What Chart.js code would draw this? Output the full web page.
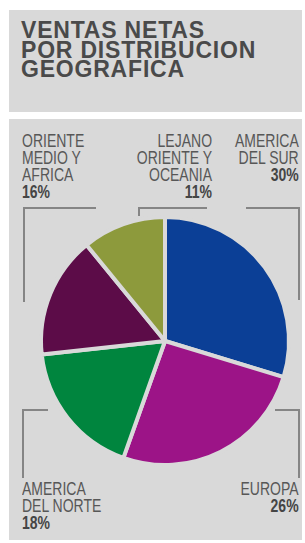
<!DOCTYPE html>
<html>
<head>
<meta charset="utf-8">
<script src="https://cdn.jsdelivr.net/npm/chart.js@4/dist/chart.umd.min.js"></script>
<style>
    html, body { margin: 0; padding: 0; background: #fff; }
    body { width: 305px; height: 543px; position: relative; overflow: hidden; font-family: "Liberation Sans", Arial, sans-serif; }
    .box { position: absolute; left: 9px; width: 293px; background: #d9d9d9; }
    #title-box { top: 10px; height: 102px; }
    #panel { top: 119px; height: 421px; }
    #title { position: absolute; left: 21px; top: 21px; font-size: 23px; font-weight: bold; line-height: 19.5px; letter-spacing: 0.8px; color: #4a4a4a; margin: 0; }
    #pie-wrap { position: absolute; left: 35px; top: 211px; width: 260px; height: 260px; }
    .label { position: absolute; font-family: "Liberation Sans", Arial, sans-serif; font-size: 17.5px; line-height: 17px; color: #575757; white-space: pre; transform: scaleX(0.8); }
    .label.l { transform-origin: left top; }
    .label.r { transform-origin: right top; }
    .label b { color: #454545; }
    .bracket { position: absolute; border: 0 solid #858585; box-sizing: border-box; }
</style>
</head>
<body>
<div class="box" id="title-box"></div>
<div class="box" id="panel"></div>
<h1 id="title">VENTAS NETAS<br>POR DISTRIBUCION<br>GEOGRAFICA</h1>
<div id="pie-wrap"><canvas id="pie" width="260" height="260"></canvas></div>
<div id="labels"></div>
<script>
(function () {
    'use strict';

    // Chart data, clockwise from 12 o'clock
    const regions = ['AMERICA\nDEL SUR', 'EUROPA', 'AMERICA\nDEL NORTE', 'ORIENTE\nMEDIO Y\nAFRICA', 'LEJANO\nORIENTE Y\nOCEANIA'];
    const shares = [30, 26, 18, 16, 11];
    const sliceColors = ['#0b3f96', '#9c1487', '#00853e', '#5c0c48', '#8d9a3c'];

    // Label placement (same order as regions)
    const labelLayout = [
        { right: 6, top: 133, align: 'right' },
        { right: 6, top: 481, align: 'right' },
        { left: 22, top: 481, align: 'left' },
        { left: 22, top: 133, align: 'left' },
        { right: 93, top: 133, align: 'right' }
    ];

    // Leader brackets: [left, top, width, height, side]
    const brackets = [
        [23, 207, 73, 95, 'left'],
        [138, 207, 69, 9, 'left'],
        [246, 207, 54, 93, 'right'],
        [22, 409, 26, 69, 'left'],
        [275, 409, 25, 69, 'right']
    ];

    function buildLabels() {
        const container = document.getElementById('labels');
        container.innerHTML = regions.map((name, i) => {
            const pos = labelLayout[i];
            const side = pos.left !== undefined ? `left:${pos.left}px;` : `right:${pos.right}px;`;
            const cls = pos.align === 'left' ? 'l' : 'r';
            return `<div class="label ${cls}" style="${side}top:${pos.top}px;text-align:${pos.align}">${name}\n<b>${shares[i]}%</b></div>`;
        }).join('');

        brackets.forEach(b => {
            const div = document.createElement('div');
            div.className = 'bracket';
            div.style.left = b[0] + 'px';
            div.style.top = b[1] + 'px';
            div.style.width = b[2] + 'px';
            div.style.height = b[3] + 'px';
            div.style.borderTopWidth = '2px';
            if (b[4] === 'left') div.style.borderLeftWidth = '2px';
            else div.style.borderRightWidth = '2px';
            document.body.appendChild(div);
        });
    }

    function buildPie() {
        new Chart(document.getElementById('pie'), {
            type: 'pie',
            data: {
                labels: regions,
                datasets: [{
                    data: shares,
                    backgroundColor: sliceColors,
                    borderColor: '#d9d9d9',
                    borderWidth: 4
                }]
            },
            options: {
                responsive: false,
                animation: false,
                radius: 124,
                layout: { padding: 0 },
                plugins: {
                    legend: { display: false },
                    tooltip: { enabled: false }
                }
            }
        });
    }

    buildLabels();
    buildPie();
})();
</script>
</body>
</html>
